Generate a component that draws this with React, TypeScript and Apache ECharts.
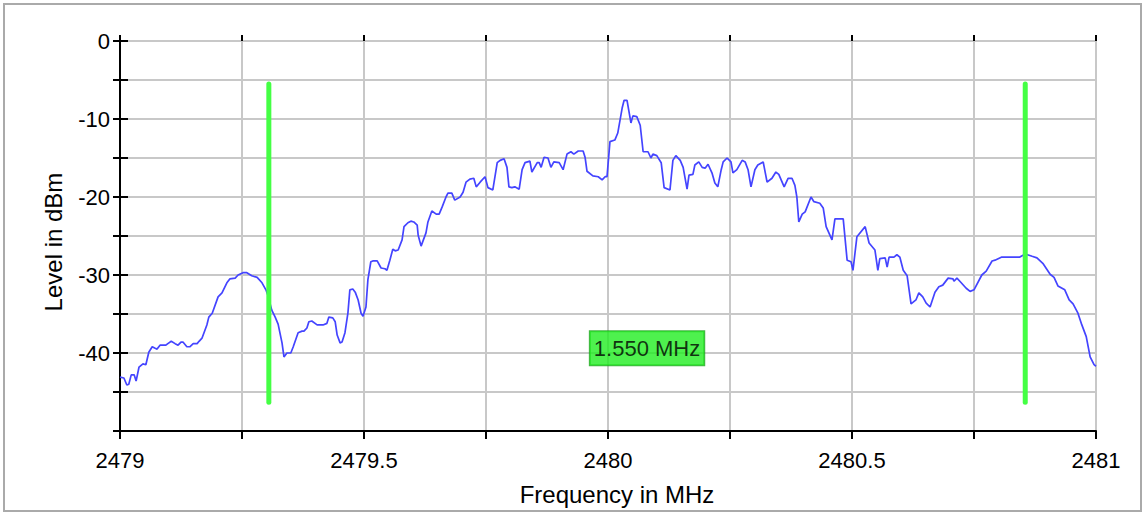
import React, { useEffect, useRef } from "react";
import * as echarts from "echarts";

const freqs = [
  2479.000, 2479.008, 2479.014, 2479.018, 2479.023, 2479.029, 2479.033, 2479.039, 2479.047, 2479.053,
  2479.059, 2479.066, 2479.072, 2479.076, 2479.082, 2479.094, 2479.098, 2479.105, 2479.113, 2479.119,
  2479.125, 2479.129, 2479.137, 2479.143, 2479.150, 2479.158, 2479.162, 2479.168, 2479.178, 2479.182,
  2479.189, 2479.201, 2479.209, 2479.219, 2479.225, 2479.236, 2479.242, 2479.252, 2479.260, 2479.270,
  2479.281, 2479.291, 2479.299, 2479.303, 2479.311, 2479.318, 2479.324, 2479.332, 2479.336, 2479.342,
  2479.350, 2479.355, 2479.365, 2479.373, 2479.377, 2479.383, 2479.387, 2479.393, 2479.404, 2479.416,
  2479.424, 2479.428, 2479.436, 2479.441, 2479.445, 2479.451, 2479.455, 2479.461, 2479.467, 2479.471,
  2479.477, 2479.482, 2479.488, 2479.494, 2479.498, 2479.504, 2479.508, 2479.514, 2479.518, 2479.527,
  2479.535, 2479.543, 2479.547, 2479.553, 2479.559, 2479.564, 2479.570, 2479.578, 2479.582, 2479.590,
  2479.596, 2479.602, 2479.609, 2479.611, 2479.617, 2479.627, 2479.631, 2479.639, 2479.648, 2479.654,
  2479.660, 2479.668, 2479.672, 2479.680, 2479.686, 2479.697, 2479.703, 2479.709, 2479.717, 2479.725,
  2479.730, 2479.738, 2479.748, 2479.754, 2479.764, 2479.773, 2479.779, 2479.787, 2479.793, 2479.797,
  2479.803, 2479.809, 2479.818, 2479.824, 2479.830, 2479.840, 2479.844, 2479.855, 2479.859, 2479.863,
  2479.869, 2479.877, 2479.883, 2479.889, 2479.900, 2479.908, 2479.916, 2479.924, 2479.930, 2479.939,
  2479.949, 2479.953, 2479.957, 2479.969, 2479.980, 2479.988, 2479.994, 2479.998, 2480.004, 2480.014,
  2480.020, 2480.029, 2480.033, 2480.039, 2480.047, 2480.051, 2480.059, 2480.066, 2480.072, 2480.082,
  2480.088, 2480.092, 2480.100, 2480.109, 2480.115, 2480.127, 2480.133, 2480.139, 2480.148, 2480.154,
  2480.162, 2480.166, 2480.174, 2480.178, 2480.186, 2480.193, 2480.199, 2480.205, 2480.213, 2480.219,
  2480.225, 2480.232, 2480.236, 2480.244, 2480.252, 2480.256, 2480.264, 2480.275, 2480.281, 2480.287,
  2480.293, 2480.301, 2480.307, 2480.318, 2480.326, 2480.336, 2480.344, 2480.350, 2480.361, 2480.369,
  2480.377, 2480.383, 2480.387, 2480.391, 2480.398, 2480.404, 2480.416, 2480.422, 2480.434, 2480.441,
  2480.447, 2480.459, 2480.465, 2480.482, 2480.490, 2480.498, 2480.502, 2480.510, 2480.527, 2480.535,
  2480.547, 2480.553, 2480.557, 2480.568, 2480.572, 2480.576, 2480.586, 2480.592, 2480.598, 2480.605,
  2480.613, 2480.621, 2480.631, 2480.637, 2480.645, 2480.652, 2480.660, 2480.670, 2480.678, 2480.686,
  2480.697, 2480.707, 2480.709, 2480.715, 2480.721, 2480.734, 2480.742, 2480.750, 2480.766, 2480.775,
  2480.787, 2480.793, 2480.807, 2480.844, 2480.855, 2480.869, 2480.879, 2480.891, 2480.906, 2480.914,
  2480.922, 2480.936, 2480.945, 2480.953, 2480.963, 2480.971, 2480.980, 2480.988, 2480.996, 2481.000,
];

const levels = [
  -43.1, -43.2, -44.1, -44.0, -42.8, -42.8, -43.6, -41.8, -41.4, -41.5,
  -39.9, -39.2, -39.4, -39.5, -39.0, -39.0, -38.8, -38.5, -38.8, -39.0,
  -38.6, -38.6, -39.2, -39.2, -38.8, -38.8, -38.5, -38.1, -36.4, -35.4,
  -34.9, -32.8, -32.3, -31.0, -30.5, -30.4, -30.0, -29.7, -29.7, -30.1,
  -30.3, -31.0, -31.9, -32.6, -34.5, -35.4, -36.3, -38.7, -40.5, -40.0,
  -40.0, -39.2, -37.4, -37.2, -37.2, -36.8, -36.0, -35.9, -36.4, -36.4,
  -36.2, -35.4, -35.5, -36.0, -37.7, -38.7, -38.6, -37.4, -34.9, -31.9,
  -31.8, -32.2, -33.2, -34.9, -35.3, -34.1, -30.6, -28.3, -28.2, -28.2,
  -29.1, -29.2, -29.4, -28.1, -26.7, -26.9, -26.8, -25.5, -23.8, -23.3,
  -23.1, -23.2, -23.6, -24.9, -26.3, -24.6, -23.2, -21.8, -22.2, -22.2,
  -21.3, -20.0, -19.5, -19.5, -20.4, -20.0, -19.4, -18.1, -17.7, -17.6,
  -18.7, -18.1, -17.4, -18.8, -19.1, -15.6, -15.3, -15.1, -16.2, -18.7,
  -18.8, -18.7, -19.0, -16.5, -15.6, -15.4, -16.8, -15.6, -15.6, -16.2,
  -14.9, -15.0, -16.2, -15.5, -15.6, -16.5, -14.5, -14.2, -14.5, -14.1,
  -14.1, -14.9, -16.7, -17.3, -17.4, -17.8, -17.4, -17.4, -12.9, -12.7,
  -11.8, -8.6, -7.6, -7.6, -10.5, -9.6, -9.7, -10.8, -14.2, -14.2,
  -15.0, -14.5, -14.7, -15.6, -18.8, -19.1, -15.3, -14.7, -15.3, -16.2,
  -19.0, -17.2, -17.1, -15.9, -15.5, -16.2, -16.3, -15.8, -16.9, -18.2,
  -18.7, -16.5, -15.5, -15.0, -15.5, -16.9, -16.5, -15.3, -15.5, -16.5,
  -18.7, -16.5, -15.9, -15.5, -18.1, -17.6, -16.8, -17.1, -18.7, -17.6,
  -17.6, -18.5, -20.0, -23.2, -22.2, -21.9, -20.0, -20.6, -20.8, -21.4,
  -23.8, -25.5, -22.8, -22.8, -28.1, -28.3, -29.4, -25.1, -23.8, -25.9,
  -26.8, -29.4, -27.9, -27.8, -29.0, -27.7, -27.7, -27.4, -27.7, -29.4,
  -30.1, -33.7, -33.2, -32.3, -32.8, -33.6, -34.1, -32.2, -31.5, -31.3,
  -30.4, -30.5, -30.8, -30.4, -30.8, -31.7, -32.1, -31.9, -30.0, -29.5,
  -28.2, -28.1, -27.7, -27.7, -27.3, -27.6, -27.8, -28.5, -29.9, -30.3,
  -31.4, -31.9, -33.2, -33.7, -34.9, -36.4, -37.9, -40.5, -41.5, -41.7,
];

const markerFreqs = [2479.305, 2480.855];
const markerLevels = [-5.5, -46.3];
const labelLevel = -39.4;

const xTickLabels = [2479, 2479.5, 2480, 2480.5, 2481];
const yTickLabels = [0, -10, -20, -30, -40];

const FONT = "'Liberation Sans', Arial, sans-serif";

export default function App() {
  const ref = useRef<HTMLDivElement>(null);

  useEffect(() => {
    if (!ref.current) return;
    const chart = echarts.init(ref.current, undefined, { renderer: "svg" });

    const trace = freqs.map((f, i) => [f, levels[i]]);
    const diff = markerFreqs[1] - markerFreqs[0];
    const mid = (markerFreqs[0] + markerFreqs[1]) / 2;

    const xLabelFmt = (v: number) =>
      xTickLabels.some((t) => Math.abs(t - v) < 1e-6) ? String(Math.round(v * 10) / 10) : "";
    const yLabelFmt = (v: number) =>
      yTickLabels.some((t) => Math.abs(t - v) < 1e-6) ? String(v) : "";

    const axisBase = {
      type: "value" as const,
      axisLine: { show: true, onZero: false, lineStyle: { color: "#000", width: 2 } },
    };

    chart.setOption({
      animation: false,
      backgroundColor: "#fff",
      textStyle: { fontFamily: FONT },
      graphic: [
        {
          type: "rect",
          shape: { x: 4, y: 4, width: 1137, height: 507 },
          style: { fill: "none", stroke: "#aaaaaa", lineWidth: 2 },
          silent: true,
          z: -1,
        },
      ],
      grid: { left: 120, top: 41, width: 976, height: 390, containLabel: false },
      xAxis: [
        {
          ...axisBase,
          min: 2479,
          max: 2481,
          interval: 0.25,
          position: "bottom",
          name: "Frequency in MHz",
          nameLocation: "middle",
          nameGap: 51,
          nameTextStyle: {
            fontSize: 24,
            color: "#000",
            fontFamily: FONT,
            padding: [0, 0, 0, 18],
          },
          axisTick: { show: true, length: 8, lineStyle: { color: "#000", width: 2 } },
          axisLabel: {
            show: true,
            margin: 18,
            fontSize: 22,
            color: "#000",
            fontFamily: FONT,
            formatter: xLabelFmt,
            showMinLabel: true,
            showMaxLabel: true,
          },
          splitLine: { show: true, lineStyle: { color: "#c8c8c8", width: 2 } },
        },
        {
          type: "value",
          min: 2479,
          max: 2481,
          interval: 0.25,
          position: "bottom",
          axisLine: { show: false },
          axisTick: { show: true, inside: true, length: 6, lineStyle: { color: "#000", width: 2 } },
          axisLabel: { show: false },
          splitLine: { show: false },
        },
      ],
      yAxis: [
        {
          ...axisBase,
          min: -50,
          max: 0,
          interval: 5,
          position: "left",
          name: "Level in dBm",
          nameLocation: "middle",
          nameGap: 55,
          nameTextStyle: {
            fontSize: 24,
            color: "#000",
            fontFamily: FONT,
            padding: [0, 12, 0, 0],
          },
          axisTick: { show: true, length: 7, lineStyle: { color: "#000", width: 2 } },
          axisLabel: {
            show: true,
            margin: 10,
            fontSize: 22,
            color: "#000",
            fontFamily: FONT,
            formatter: yLabelFmt,
          },
          splitLine: { show: true, lineStyle: { color: "#c8c8c8", width: 2 } },
        },
        {
          type: "value",
          min: -50,
          max: 0,
          interval: 5,
          position: "left",
          axisLine: { show: false },
          axisTick: { show: true, inside: true, length: 8, lineStyle: { color: "#000", width: 2 } },
          axisLabel: { show: false },
          splitLine: { show: false },
        },
      ],
      series: [
        {
          type: "line",
          name: "trace",
          data: trace,
          showSymbol: false,
          symbol: "none",
          lineStyle: { color: "#4444ff", width: 1.7 },
          z: 3,
        },
        ...markerFreqs.map((f, i) => ({
          type: "line",
          name: "marker" + (i + 1),
          data: markerLevels.map((l) => [f, l]),
          showSymbol: false,
          symbol: "none",
          lineStyle: { color: "#44ff44", width: 5, cap: "round" },
          z: 4,
        })),
        {
          type: "scatter",
          name: "delta",
          data: [[mid, labelLevel]],
          symbolSize: 1,
          itemStyle: { color: "rgba(0,0,0,0)" },
          z: 5,
          label: {
            show: true,
            position: "inside",
            formatter: () => diff.toFixed(3) + " MHz",
            fontSize: 22,
            lineHeight: 22,
            color: "#000",
            fontFamily: FONT,
            backgroundColor: "#22ee22",
            borderColor: "#17a317",
            borderWidth: 1,
            padding: [6, 4, 6, 4],
          },
        },
      ],
    });

    return () => chart.dispose();
  }, []);

  return (
    <div
      ref={ref}
      style={{ position: "absolute", left: 0, top: 0, width: 1145, height: 514 }}
    />
  );
}
